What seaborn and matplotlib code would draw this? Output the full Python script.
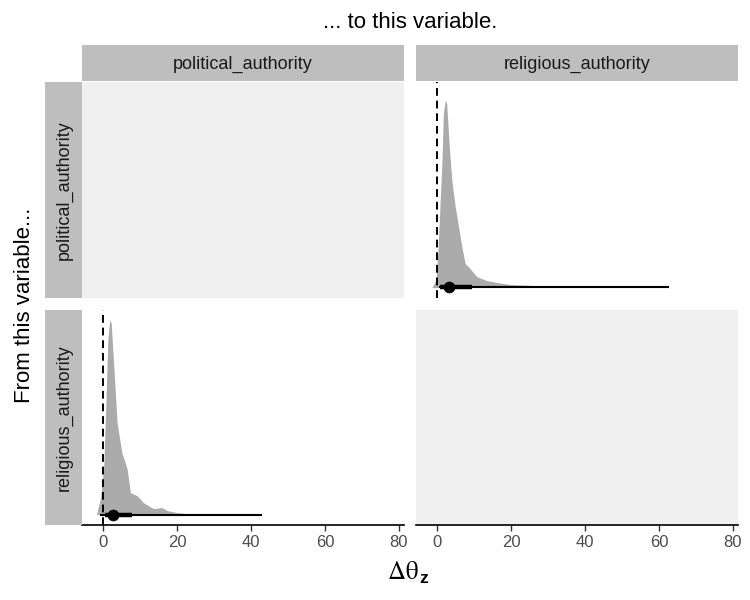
import numpy as np
import pandas as pd
import seaborn as sns
import matplotlib.pyplot as plt
from matplotlib.patches import Rectangle

# variables (rows = from, cols = to)
variables = ["political_authority", "religious_authority"]

# slab (density), arbitrary height units
pol_rel_x = [-1.4, -0.3, 0.2, 0.6, 1.3, 1.7, 2.2, 2.6, 3.3, 4.0, 4.9, 5.8,
             6.7, 7.6, 8.9, 10.7, 13.4, 16.1, 19.7, 26.0, 28.3, 28.7]
pol_rel_h = [0, 7, 34, 67, 124, 174, 187, 184, 141, 107, 81, 61,
             41, 24, 19, 11, 7, 5, 3, 2, 1, 0]

rel_pol_x = [-1.8, -0.7, 0.2, 0.8, 1.3, 1.8, 2.2, 2.9, 3.8, 5.1, 6.5, 7.4,
             9.2, 10.9, 13.6, 15.9, 17.3, 19.9, 22.2, 22.4]
rel_pol_h = [0, 16, 49, 116, 176, 196, 192, 149, 92, 62, 46, 22,
             19, 12, 6, 7, 4, 2, 1, 0]

# point + intervals (median, 66%, 95%)
medians = [3.2, 2.7]
thick_lo = [0.8, 0.6]
thick_hi = [9.4, 7.8]
thin_lo = [0.6, -0.9]
thin_hi = [62.8, 43.1]

x_ticks = [0, 20, 40, 60, 80]

sns.set_theme(style="white")
plt.rcParams['font.family'] = ['Liberation Sans', 'DejaVu Sans']
plt.rcParams['mathtext.fontset'] = 'stix'

fig = plt.figure(figsize=(7.5, 6), dpi=100)
W, H = 750, 600


def px_axes(x0, y0, x1, y1):
    return fig.add_axes([x0 / W, 1 - y1 / H, (x1 - x0) / W, (y1 - y0) / H])


col_x = [(82, 404), (416, 738)]
row_y = [(82, 298), (310, 525)]
strip_c = "#bebebe"

slabs = {(0, 1): (pol_rel_x, pol_rel_h, 0), (1, 0): (rel_pol_x, rel_pol_h, 1)}

for r in range(2):
    for c in range(2):
        ax = px_axes(col_x[c][0], row_y[r][0], col_x[c][1], row_y[r][1])
        ax.set_xlim(-5.7, 81.4)
        ax.set_ylim(-10.5, 205.5)
        ax.set_yticks([])
        for s in ax.spines.values():
            s.set_visible(False)
        if r == c:
            ax.set_facecolor("#f0f0f0")
        else:
            ax.set_facecolor("white")
            xs, hs, k = slabs[(r, c)]
            df = pd.DataFrame({"x": xs, "h": hs})
            ax.fill_between(df["x"], 0, df["h"], color="#ababab", lw=0)
            ax.axvline(0, color="black", lw=1.4, ls=(0, (4, 2.5)))
            ax.plot([thin_lo[k], thin_hi[k]], [0, 0], color="black", lw=1.5,
                    solid_capstyle="butt")
            ax.plot([thick_lo[k], thick_hi[k]], [0, 0], color="black", lw=3.2,
                    solid_capstyle="butt")
            sns.scatterplot(x=[medians[k]], y=[0], ax=ax, color="black",
                            s=60, edgecolor="black", zorder=5)
        if r == 1:
            ax.spines["bottom"].set_visible(True)
            ax.spines["bottom"].set_color("black")
            ax.spines["bottom"].set_linewidth(1.2)
            ax.set_xticks(x_ticks)
            ax.tick_params(axis="x", bottom=True, length=4, width=1,
                           color="#333333", labelsize=12, labelcolor="#4d4d4d",
                           pad=3)
        else:
            ax.set_xticks([])
        ax.grid(False)

# strips
for c in range(2):
    x0, x1 = col_x[c]
    fig.patches.append(Rectangle((x0 / W, 1 - 81 / H), (x1 - x0) / W, 36 / H,
                                 transform=fig.transFigure, color=strip_c,
                                 lw=0))
    fig.text((x0 + x1) / 2 / W, 1 - 64 / H, variables[c], ha="center",
             va="center", fontsize=13, color="#1a1a1a")
for r in range(2):
    y0, y1 = row_y[r]
    fig.patches.append(Rectangle((45 / W, 1 - y1 / H), 37 / W, (y1 - y0) / H,
                                 transform=fig.transFigure, color=strip_c,
                                 lw=0))
    fig.text(64 / W, 1 - (y0 + y1) / 2 / H, variables[r], ha="center",
             va="center", rotation=90, fontsize=13, color="#1a1a1a")

fig.text(410 / W, 1 - 22 / H, "... to this variable.", ha="center",
         va="center", fontsize=16, color="black")
fig.text(25 / W, 1 - 305 / H, "From this variable...", ha="center",
         va="center", rotation=90, fontsize=16, color="black")
# x label: upright serif Δθ with sans bold subscript z
fig.text(419 / W, 1 - 579 / H, r"$\mathrm{\Delta\theta}$", ha="right",
         va="baseline", fontsize=18, color="black")
fig.text(419 / W, 1 - 583 / H, "z", ha="left", va="baseline",
         fontsize=12.5, fontweight="bold", color="black")

fig.savefig("out.png", dpi=100)
